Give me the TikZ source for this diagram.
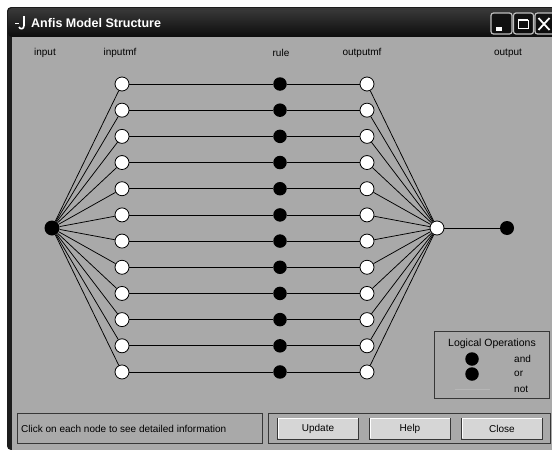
\documentclass[tikz,border=0pt]{standalone}
\usepackage{fontspec}
\setmainfont{Liberation Sans}
\definecolor{bgc}{RGB}{169,169,169}
\definecolor{framec}{RGB}{28,28,28}
\definecolor{titletop}{RGB}{58,58,58}
\definecolor{titlebot}{RGB}{12,12,12}
\definecolor{btnc}{RGB}{214,214,214}
\definecolor{edgec}{RGB}{55,55,55}
\definecolor{wbtnb}{RGB}{190,190,190}
\begin{document}
\begin{tikzpicture}[x=1pt,y=-1pt,
  mf/.style={circle, draw=black, fill=white, line width=0.8pt, minimum size=14pt, inner sep=0pt},
  rulen/.style={circle, fill=black, minimum size=13.5pt, inner sep=0pt},
  ionode/.style={circle, fill=black, minimum size=15pt, inner sep=0pt},
  conn/.style={black, line width=0.75pt},
  lbl/.style={font=\fontsize{10}{12}\selectfont, text=black, inner sep=0pt},
  panel/.style={draw=edgec, line width=1pt},
  pushbtn/.style={draw=edgec, fill=btnc, line width=0.8pt, minimum width=81pt, minimum height=21pt, inner sep=0pt, font=\fontsize{10}{12}\selectfont},
  winbtn/.style={draw=wbtnb, line width=1.2pt, rounded corners=2.5pt, top color=titletop!120, bottom color=titlebot}
]
\useasboundingbox (0,0) rectangle (552,450);
\fill[white] (0,0) rectangle (552,450);
% window frame and title bar
\fill[framec, rounded corners=4pt] (7,7) rectangle (560,450);
\shade[top color=titletop, bottom color=titlebot, rounded corners=4pt] (8,8) rectangle (560,37);
\fill[bgc] (12,37) rectangle (552,450);
% title icon
\draw[white, line width=1.4pt] (15,23.5) -- (19,23.5);
\draw[white, line width=1.6pt] (24,16) -- (24,25.5) .. controls (24,29.5) and (20,29.5) .. (19,27);
\node[anchor=west, text=white, inner sep=0pt, font=\bfseries\fontsize{12.5}{14}\selectfont] (title) at (31,23) {Anfis Model Structure};
% window buttons
\draw[winbtn] (491,13) rectangle (512,34);
\draw[winbtn] (513.5,13) rectangle (533.5,34);
\draw[winbtn] (535,13) rectangle (558,34);
\fill[white] (496,27) rectangle (502,31);
\draw[white, line width=1pt] (518,20) rectangle (528,28);
\draw[white, line width=2pt] (518,20) -- (528,20);
\draw[white, line width=1.8pt] (538.5,18) -- (549.5,30);
\draw[white, line width=1.8pt] (549.5,18) -- (538.5,30);
% column labels
\node[lbl] (linput) at (45,53) {input};
\node[lbl] (linputmf) at (120,53) {inputmf};
\node[lbl] (lrule) at (281,53) {rule};
\node[lbl] (loutputmf) at (362,53) {outputmf};
\node[lbl] (loutput) at (508,53) {output};
% nodes
\node[ionode] (in) at (52,228) {};
\node[mf] (omf) at (437,228) {};
\node[ionode, minimum size=14pt] (out) at (507,228) {};
\foreach \i in {0,...,11}{
  \pgfmathsetmacro{\yy}{84+\i*26.18}
  \node[mf] (imf\i) at (122,\yy) {};
  \node[rulen] (r\i) at (280,\yy) {};
  \node[mf] (o\i) at (367,\yy) {};
  \draw[conn] (in) -- (imf\i);
  \draw[conn] (imf\i) -- (r\i);
  \draw[conn] (r\i) -- (o\i);
  \draw[conn] (o\i) -- (omf);
}
\draw[conn] (omf) -- (out);
% legend
\draw[panel] (434,331) rectangle (549,398);
\node[lbl, font=\fontsize{10.5}{12}\selectfont] (lgtitle) at (492,344) {Logical Operations};
\node[rulen] (ldand) at (472,359) {};
\node[rulen] (ldor) at (472,374) {};
\coordinate (ln1) at (455,389);
\coordinate (ln2) at (490,389);
\draw[bgc!85!white, line width=0.6pt] (ln1) -- (ln2);
\node[lbl, anchor=west] (land) at (514,359) {and};
\node[lbl, anchor=west] (lor) at (514,374) {or};
\node[lbl, anchor=west] (lnot) at (514,389) {not};
% status panel
\draw[panel] (17,413) rectangle (262,443);
\node[lbl, anchor=west] (status) at (21,428.5) {Click on each node to see detailed information};
% buttons panel
\draw[panel] (268,413) rectangle (550,443);
\node[pushbtn] (bupd) at (318,428.5) {Update};
\node[pushbtn] (bhelp) at (410,428.5) {Help};
\node[pushbtn] (bclose) at (502,428.5) {Close};
\foreach \b in {bupd,bhelp,bclose}{
  \draw[white, line width=0.9pt] ([shift={(1,-1)}]\b.south west) -- ([shift={(1,1)}]\b.north west) -- ([shift={(-1,1)}]\b.north east);
}
\end{tikzpicture}
\end{document}
